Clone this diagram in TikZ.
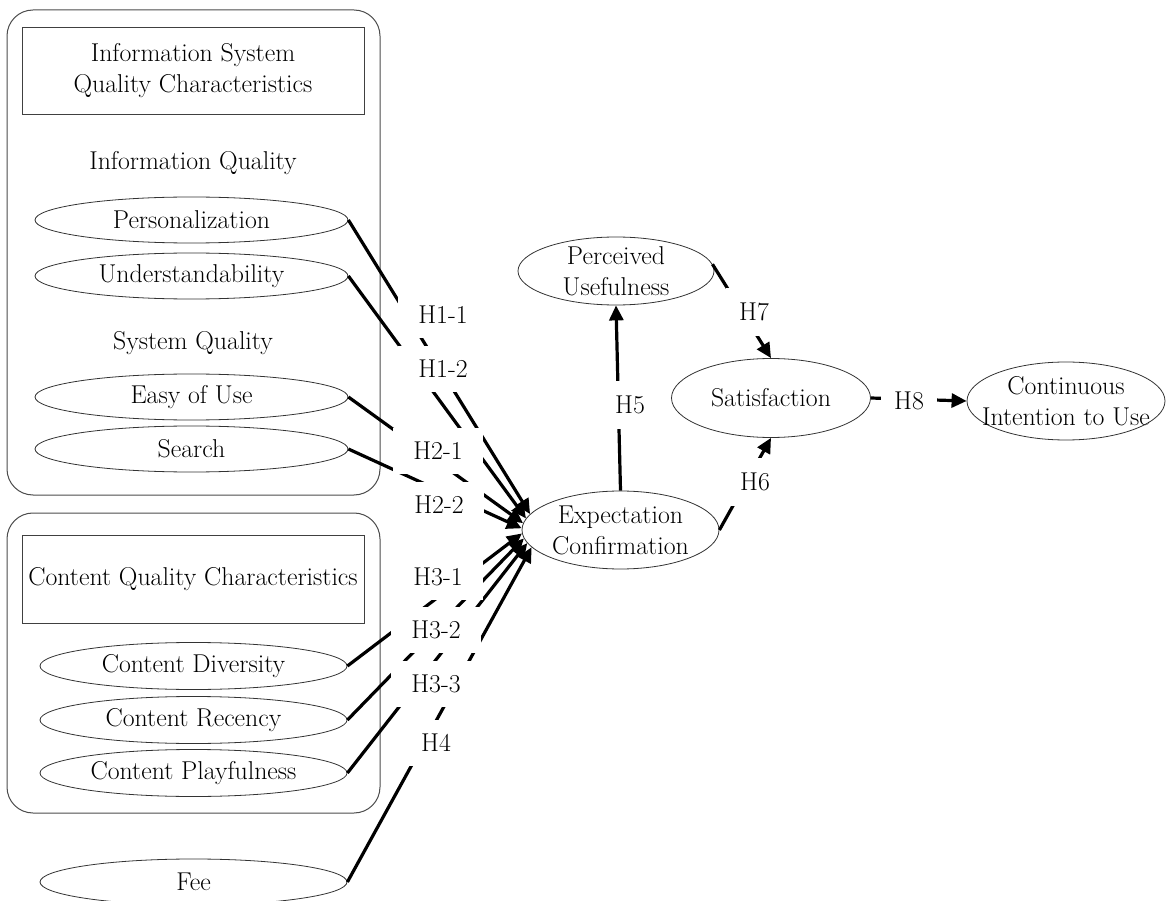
\documentclass[tikz,border=0pt]{standalone}
\usetikzlibrary{shapes.geometric,arrows.meta}
\begin{document}
\begin{tikzpicture}[x=1pt,y=-1pt,
  font=\fontsize{25.8}{31}\selectfont,
  every node/.style={text=black},
  grp/.style={draw=black!70,line width=1pt,rounded corners=26pt},
  hdr/.style={draw=black!75,line width=0.9pt,inner sep=0pt},
  ell/.style={ellipse,draw=black!80,line width=0.8pt,inner sep=0pt},
  conn/.style={line width=3.2pt,-{Triangle[length=15pt,width=14pt]}},
  hlab/.style={fill=white,inner xsep=20pt,inner ysep=0pt,minimum height=46pt},
  rlab/.style={fill=white,inner xsep=13pt,inner ysep=0pt,minimum height=48pt},
]
\useasboundingbox (0,0) rectangle (1171,901);

% group frames
\draw[grp] (7,10) rectangle (380,495);
\draw[grp] (7,513) rectangle (380,813);

% headers
\node[hdr,minimum width=342,minimum height=87,align=center] (ISQ) at (193,70.5) {Information System\\Quality Characteristics};
\node (IQ) at (193,163) {Information Quality};
\node (SQ) at (193,343) {System Quality};
\node[hdr,minimum width=342,minimum height=88] (CQC) at (193,579) {Content Quality Characteristics};

% left constructs
\node[ell,minimum width=313,minimum height=46,label=center:Personalization] (P) at (191.5,220) {};
\node[ell,minimum width=313,minimum height=46,label=center:Understandability] (U) at (191.5,276) {};
\node[ell,minimum width=313,minimum height=46,label=center:Easy of Use] (EU) at (191.5,397) {};
\node[ell,minimum width=313,minimum height=46,label=center:Search] (S) at (191.5,449) {};
\node[ell,minimum width=307,minimum height=47,label=center:Content Diversity] (CD) at (193.5,666) {};
\node[ell,minimum width=307,minimum height=47,label=center:Content Recency] (CR) at (193.5,720) {};
\node[ell,minimum width=307,minimum height=47,label=center:Content Playfulness] (CP) at (193.5,773) {};
\node[ell,minimum width=307,minimum height=46,label=center:Fee] (F) at (193.5,882) {};

% right constructs
\node[ell,minimum width=196,minimum height=68,label={[align=center]center:Perceived\\Usefulness}] (PU) at (616,271) {};
\node[ell,minimum width=197,minimum height=78,label={[align=center]center:Expectation\\Confirmation}] (EC) at (620.5,530) {};
\node[ell,minimum width=199,minimum height=79,label=center:Satisfaction] (SAT) at (771,398) {};
\node[ell,minimum width=198,minimum height=78,label={[align=center]center:Continuous\\Intention to Use}] (CIU) at (1066,401) {};

% connectors
\draw[conn] (P.east) -- (EC.170);
\draw[conn] (U.east) -- (EC.173);
\draw[conn] (EU.east) -- (EC.176);
\draw[conn] (S.east) -- (EC.179);
\draw[conn] (CD.east) -- (EC.182);
\draw[conn] (CR.east) -- (EC.185);
\draw[conn] (CP.east) -- (EC.188);
\draw[conn] (F.east) -- (EC.191);
\draw[conn] (EC.north) -- (PU.south);
\draw[conn] (EC.east) -- (SAT.south);
\draw[conn] (PU.4) -- (SAT.north);
\draw[conn] (SAT.east) -- (CIU.west);

% hypothesis labels
\node[hlab] (h11) at (443,315) {H1-1};
\node[hlab] (h12) at (443,369) {H1-2};
\node[hlab] (h21) at (438,451) {H2-1};
\node[hlab] (h22) at (439,505) {H2-2};
\node[hlab] (h31) at (438,577) {H3-1};
\node[hlab] (h32) at (436,630) {H3-2};
\node[hlab] (h33) at (436,684) {H3-3};
\node[hlab] (h4) at (436,743) {H4};
\node[rlab] (h5) at (630,405) {H5};
\node[rlab] (h6) at (755,482) {H6};
\node[rlab] (h7) at (754,312) {H7};
\node[rlab] (h8) at (909,401) {H8};
\end{tikzpicture}
\end{document}
